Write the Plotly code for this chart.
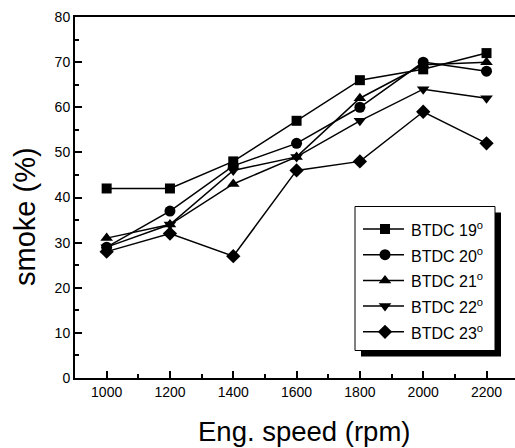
import plotly.graph_objects as go

speed = [1000, 1200, 1400, 1600, 1800, 2000, 2200]
names = ["BTDC 19<sup>o</sup>", "BTDC 20<sup>o</sup>", "BTDC 21<sup>o</sup>",
         "BTDC 22<sup>o</sup>", "BTDC 23<sup>o</sup>"]
btdc19 = [42, 42, 48, 57, 66, 68.4, 72]
btdc20 = [29, 37, 47, 52, 60, 70, 68]
btdc21 = [31, 34, 43, 49, 62, 69.4, 70]
btdc22 = [29, 34, 46, 49, 57, 64, 62]
btdc23 = [28, 32, 27, 46, 48, 59, 52]
series = [btdc19, btdc20, btdc21, btdc22, btdc23]
symbols = ["square", "circle", "triangle-up", "triangle-down", "diamond"]
sizes = [10, 11, 11, 11, 11]
x_title = "Eng. speed (rpm)"
y_title = "smoke (%)"

W, H = 515, 448
L, R, T, B = 75, 0, 17, 70
PW, PH = W - L - R, H - T - B
font = "Arial, Liberation Sans, sans-serif"

def px(x):
    return (x - L) / PW

def py(y):
    return (H - B - y) / PH

fig = go.Figure()
for i, (nm, ys) in enumerate(zip(names, series)):
    fig.add_trace(go.Scatter(
        x=speed, y=ys, name=nm, mode="lines+markers", showlegend=False,
        line=dict(color="black", width=1.5),
        marker=dict(symbol=symbols[i], size=sizes[i], color="black"),
    ))

# ---- hand-drawn legend on a pixel-coordinate overlay axis ----
bx0, bx1, by0, by1 = 355, 495, 206.5, 350.5   # legend box (pixels)
sh = 6                                        # shadow offset
row0, rowgap = 229, 25.7
lx0, lx1, mx, tx = 363, 404, 385, 409

def rect(x0, x1, y0, y1):
    return [x0, x1, x1, x0, x0], [y0, y0, y1, y1, y0]

sx, sy = rect(bx0 + sh, bx1 + sh, by0 + sh, by1 + sh)
fig.add_trace(go.Scatter(x=sx, y=sy, xaxis="x2", yaxis="y2", mode="lines",
                         fill="toself", fillcolor="black", line=dict(width=0),
                         showlegend=False, hoverinfo="skip"))
rx, ry = rect(bx0, bx1, by0, by1)
fig.add_trace(go.Scatter(x=rx, y=ry, xaxis="x2", yaxis="y2", mode="lines",
                         fill="toself", fillcolor="white",
                         line=dict(width=1, color="black"),
                         showlegend=False, hoverinfo="skip"))
for i, nm in enumerate(names):
    yy = row0 + rowgap * i
    fig.add_trace(go.Scatter(x=[lx0, lx1], y=[yy, yy], xaxis="x2", yaxis="y2",
                             mode="lines", line=dict(color="black", width=1.5),
                             showlegend=False, hoverinfo="skip"))
    fig.add_trace(go.Scatter(x=[mx], y=[yy], xaxis="x2", yaxis="y2",
                             mode="markers",
                             marker=dict(symbol=symbols[i], size=sizes[i], color="black"),
                             showlegend=False, hoverinfo="skip"))
    fig.add_annotation(x=px(tx), y=py(yy), xref="paper", yref="paper", text=nm,
                       showarrow=False, xanchor="left", yanchor="middle",
                       font=dict(size=16, family=font, color="black"))

# axis titles
fig.add_annotation(x=px(304), y=py(431), xref="paper", yref="paper", text=x_title,
                   showarrow=False, xanchor="center", yanchor="middle",
                   font=dict(size=27.5, family=font, color="black"))
fig.add_annotation(x=px(25), y=py(217), xref="paper", yref="paper", text=y_title,
                   showarrow=False, xanchor="center", yanchor="middle", textangle=-90,
                   font=dict(size=29, family=font, color="black"))

fig.update_layout(
    width=W, height=H,
    margin=dict(l=L, r=R, t=T, b=B),
    paper_bgcolor="white", plot_bgcolor="white",
    font=dict(family=font, color="black"),
    showlegend=False,
    xaxis=dict(range=[900, 2290], tickvals=speed, ticks="inside", ticklen=7,
               tickwidth=1.5, tickcolor="black",
               minor=dict(ticks="inside", ticklen=4, dtick=100, tick0=900,
                          tickwidth=1.5, tickcolor="black"),
               showline=True, linecolor="black", linewidth=2, mirror=True,
               showgrid=False, zeroline=False,
               tickfont=dict(size=14)),
    yaxis=dict(range=[0, 80], dtick=10, ticks="inside", ticklen=7,
               tickwidth=1.5, tickcolor="black",
               minor=dict(ticks="inside", ticklen=4, dtick=5,
                          tickwidth=1.5, tickcolor="black"),
               showline=True, linecolor="black", linewidth=2,
               showgrid=False, zeroline=False,
               tickfont=dict(size=14)),
    xaxis2=dict(overlaying="x", range=[L, W - R], visible=False, fixedrange=True),
    yaxis2=dict(overlaying="y", range=[H - B, T], visible=False, fixedrange=True),
)
fig.write_html("out.html")
